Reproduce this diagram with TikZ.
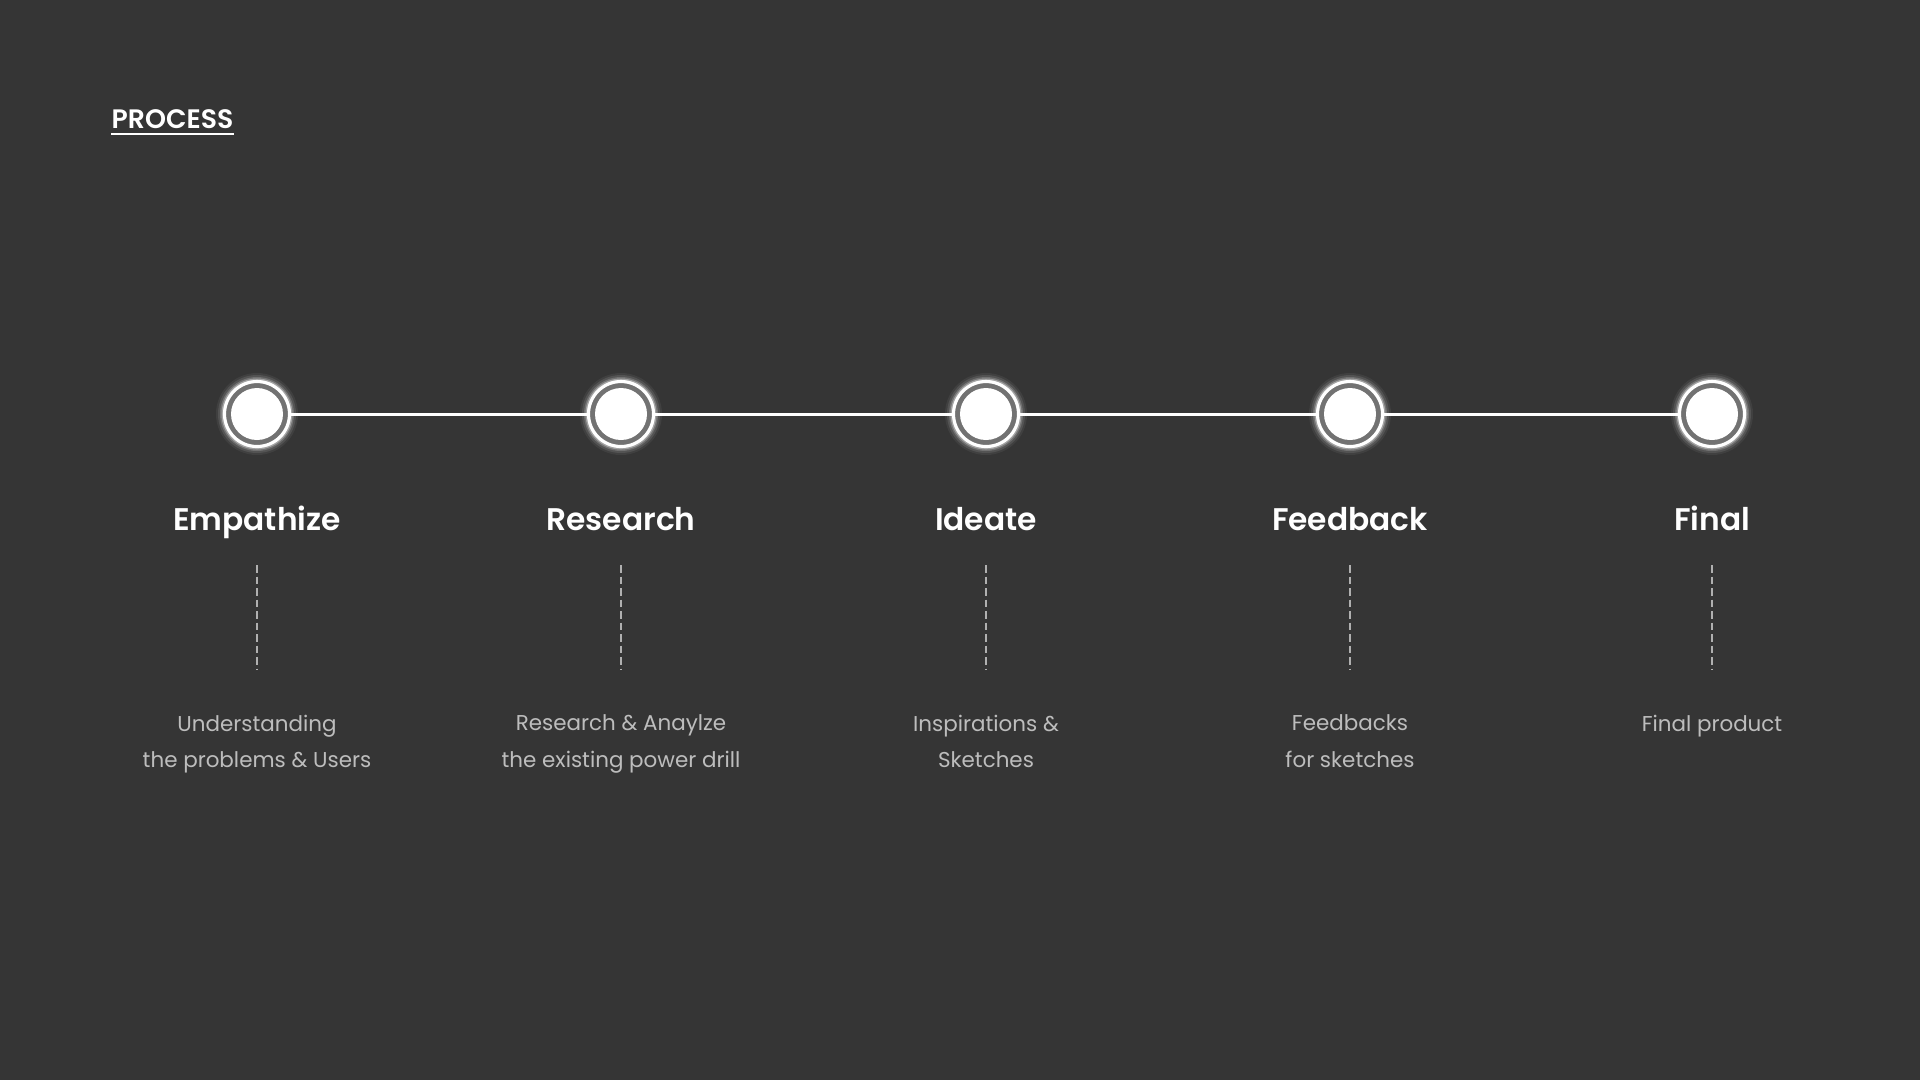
\documentclass[tikz,border=0pt]{standalone}
\usepackage{fontspec}
\setmainfont{Poppins}[BoldFont={Poppins SemiBold}]
\usetikzlibrary{positioning,calc}
\definecolor{bgdark}{HTML}{353535}
\definecolor{ringgrey}{HTML}{727272}
\definecolor{desctext}{HTML}{BDBDBD}
\definecolor{dashgrey}{HTML}{B0B0B0}
\def\ry{414}
\def\ty{530}

\begin{document}
\begin{tikzpicture}
    [
        x=0.1mm, y=-0.1mm,
        stepring/.style={circle,draw=white,line width=0.9pt,fill=ringgrey,inner sep=0pt,minimum size=6.5mm},
        timeline/.style={white,line width=0.85pt},
        steptitle/.style={text=white,font=\fontsize{8.9pt}{11pt}\selectfont\bfseries,inner sep=0pt},
        stepdesc/.style={text=desctext,font=\fontsize{6.1pt}{10.5pt}\selectfont,align=center,inner sep=0pt},
        dashline/.style={dashgrey,line width=0.45pt,dash pattern=on 0.75mm off 0.4mm}
    ]
    \useasboundingbox (0,0) rectangle (1920,1080);
    \fill[bgdark] (0,0) rectangle (1920,1080);

    \node[text=white,font=\fontsize{7.6pt}{9pt}\selectfont\bfseries,inner sep=0pt,anchor=base west] (proc) at (111,128) {PROCESS};
    \draw[white,line width=0.45pt] ([yshift=-0.6mm]proc.base west) -- ([yshift=-0.6mm]proc.base east);

    \foreach \i/\x/\name/\desc in {
        1/257/Empathize/{Understanding\\the problems \& Users},
        2/621/Research/{Research \& Anaylze\\the existing power drill},
        3/986/Ideate/{Inspirations \&\\Sketches},
        4/1350/Feedback/{Feedbacks\\for sketches},
        5/1712/Final/{Final product}}
    {
        % glow round the ring
        \foreach \r/\o in {41/0.06,39/0.1,37/0.18,35.5/0.35}
            \fill[white,opacity=\o] (\x,\ry) circle (\r);
        \node[stepring] (s\i) at (\x,\ry) {};
        \fill[white] (s\i) circle (26);

        \node[steptitle,anchor=base] (t\i) at (\x,\ty) {\name};
        \coordinate (a\i) at (\x,565);
        \coordinate (b\i) at (\x,669);
        \draw[dashline] (a\i) -- (b\i);
        \node[stepdesc,anchor=north] (d\i) at (\x,714) {\desc};
    }

    \foreach \i [evaluate=\i as \j using int(\i+1)] in {1,...,4}
        \draw[timeline] (s\i) -- (s\j);
\end{tikzpicture}
\end{document}
